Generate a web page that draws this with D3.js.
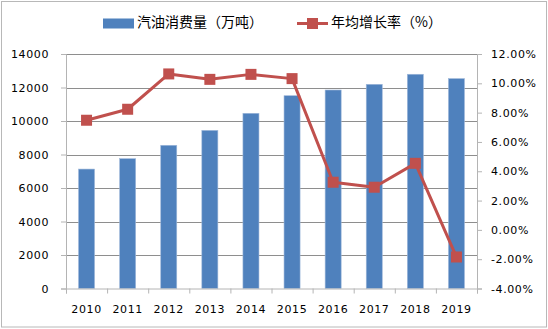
<!DOCTYPE html>
<html>
<head>
<meta charset="utf-8">
<script src="https://cdn.jsdelivr.net/npm/d3@7/dist/d3.min.js"></script>
<style>
  html, body { margin: 0; padding: 0; background: #fff; }
  svg { display: block; }
</style>
</head>
<body>
<svg id="chart" width="548" height="329"></svg>
<script>
// Gasoline consumption (10k tonnes) and annual growth rate (%), 2010–2019
const years = ["2010","2011","2012","2013","2014","2015","2016","2017","2018","2019"];
const consumption = [7130, 7750, 8550, 9440, 10460, 11510, 11850, 12190, 12790, 12530];
const growth = [7.48, 8.23, 10.64, 10.27, 10.61, 10.32, 3.25, 2.91, 4.54, -1.85];
const leftTicks = [0, 2000, 4000, 6000, 8000, 10000, 12000, 14000];
const rightTicks = [-4, -2, 0, 2, 4, 6, 8, 10, 12];
const seriesNames = ["汽油消费量（万吨）", "年均增长率（%）"];

const W = 548, H = 329;
const plot = { left: 66, right: 477, top: 54, bottom: 288.5 };
const barColor = "#4f81bd", lineColor = "#c0504d";
const gridColor = "#8e8e8e", axisColor = "#b4b4b4";
const numFont = "'DejaVu Sans', Verdana, sans-serif";

const svg = d3.select("#chart");

// outer frame
svg.append("rect")
  .attr("x", 1.5).attr("y", 1.5).attr("width", W - 3).attr("height", H - 3.5)
  .attr("fill", "#fff").attr("stroke", "#b8b8b8").attr("stroke-width", 1);

const x = d3.scaleBand().domain(years).range([plot.left, plot.right])
  .paddingInner(0.61).paddingOuter(0.305);
const yL = d3.scaleLinear().domain([0, 14000]).range([plot.bottom, plot.top]);
const yR = d3.scaleLinear().domain([-4, 12]).range([plot.bottom, plot.top]);

// horizontal gridlines from the left axis
svg.append("g").selectAll("line").data(leftTicks.filter(d => d > 0)).join("line")
  .attr("x1", plot.left).attr("x2", plot.right)
  .attr("y1", d => Math.round(yL(d)) + 0.5).attr("y2", d => Math.round(yL(d)) + 0.5)
  .attr("stroke", gridColor).attr("stroke-width", 1);

// bars
svg.append("g").selectAll("rect").data(years).join("rect")
  .attr("x", d => x(d))
  .attr("width", x.bandwidth())
  .attr("y", (d, i) => yL(consumption[i]))
  .attr("height", (d, i) => yL(0) - yL(consumption[i]))
  .attr("fill", barColor)
  .attr("stroke", "#9fb8da").attr("stroke-width", 0.6);

// left axis
const gL = svg.append("g").attr("transform", `translate(${plot.left},0)`)
  .call(d3.axisLeft(yL).tickValues(leftTicks).tickSize(5).tickPadding(12).tickFormat(d3.format("d")));
// right axis
const gR = svg.append("g").attr("transform", `translate(${plot.right},0)`)
  .call(d3.axisRight(yR).tickValues(rightTicks).tickSize(5).tickPadding(9)
    .tickFormat(d => d.toFixed(2) + "%"));
// bottom axis, ticks at category boundaries
const xEdges = d3.scaleLinear().domain([0, years.length]).range([plot.left, plot.right]);
const gB = svg.append("g").attr("transform", `translate(0,${plot.bottom})`)
  .call(d3.axisBottom(xEdges).ticks(years.length).tickValues(d3.range(0, years.length + 1))
    .tickSize(5).tickFormat(""));
svg.append("g").selectAll("text").data(years).join("text")
  .attr("x", d => x(d) + x.bandwidth() / 2)
  .attr("y", plot.bottom + 24)
  .attr("text-anchor", "middle")
  .attr("font-family", numFont).attr("font-size", 11).attr("letter-spacing", 0.6)
  .attr("fill", "#000").text(d => d);

[gL, gR, gB].forEach(g => {
  g.select(".domain").attr("stroke", axisColor);
  g.selectAll(".tick line").attr("stroke", axisColor);
  g.selectAll(".tick text").attr("font-family", numFont).attr("font-size", 11)
    .attr("letter-spacing", 0.6).attr("fill", "#000");
});

// growth-rate line with square markers
const line = d3.line()
  .x((d, i) => x(years[i]) + x.bandwidth() / 2)
  .y(d => yR(d));
svg.append("path").datum(growth)
  .attr("d", line).attr("fill", "none")
  .attr("stroke", lineColor).attr("stroke-width", 3).attr("stroke-linejoin", "round");
const m = 11;
svg.append("g").selectAll("rect").data(growth).join("rect")
  .attr("x", (d, i) => x(years[i]) + x.bandwidth() / 2 - m / 2)
  .attr("y", d => yR(d) - m / 2)
  .attr("width", m).attr("height", m)
  .attr("fill", lineColor);

// legend
const cjk = "'Noto Sans CJK SC', sans-serif";
const leg = svg.append("g");
leg.append("rect").attr("x", 103).attr("y", 18.5).attr("width", 31).attr("height", 10)
  .attr("fill", barColor);
leg.append("text").attr("x", 137).attr("y", 27).attr("font-family", cjk)
  .attr("font-size", 14).attr("fill", "#000").text(seriesNames[0]);
leg.append("line").attr("x1", 297).attr("x2", 328).attr("y1", 23.5).attr("y2", 23.5)
  .attr("stroke", lineColor).attr("stroke-width", 3);
leg.append("rect").attr("x", 307).attr("y", 18).attr("width", 11).attr("height", 11)
  .attr("fill", lineColor);
leg.append("text").attr("x", 331).attr("y", 27).attr("font-family", cjk)
  .attr("font-size", 14).attr("fill", "#000").text(seriesNames[1]);
</script>
</body>
</html>
